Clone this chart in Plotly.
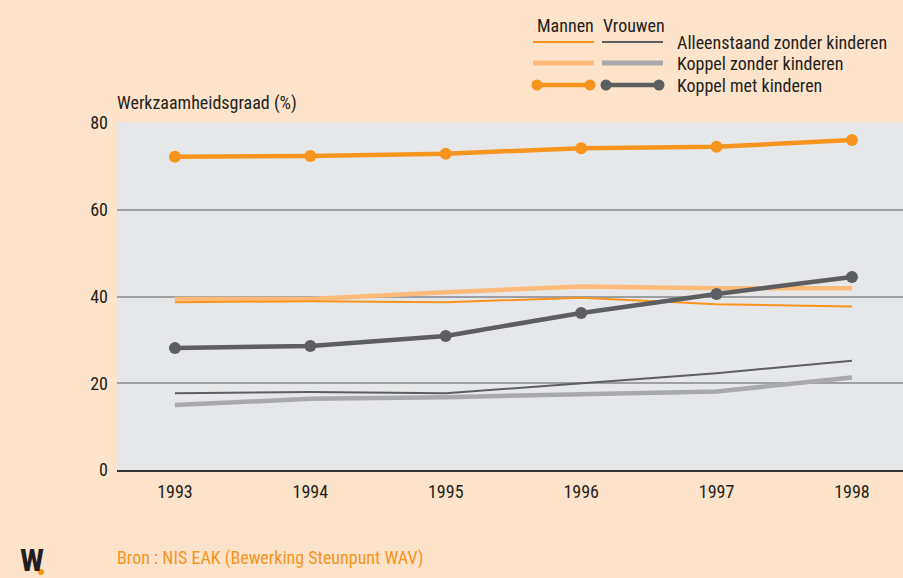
import plotly.graph_objects as go

years = [1993, 1994, 1995, 1996, 1997, 1998]

mannen_alleen = [38.7, 38.9, 38.7, 39.7, 38.2, 37.7]
mannen_koppel_zonder = [39.4, 39.4, 41.0, 42.3, 41.9, 41.9]
mannen_koppel_met = [72.2, 72.4, 72.9, 74.2, 74.5, 76.1]
vrouwen_alleen = [17.7, 18.0, 17.7, 20.0, 22.3, 25.2]
vrouwen_koppel_zonder = [15.0, 16.4, 16.8, 17.4, 18.1, 21.3]
vrouwen_koppel_met = [28.1, 28.6, 30.9, 36.2, 40.6, 44.5]

y_ticks = [0, 20, 40, 60, 80]
legend_rows = ["Alleenstaand zonder kinderen", "Koppel zonder kinderen", "Koppel met kinderen"]
col_heads = ["Mannen", "Vrouwen"]

ORANGE = "#F7941D"
LORANGE = "#FDBA78"
DGRAY = "#5D5E61"
LGRAY = "#A8A9AC"
BG = "#FDE3C9"
PLOT = "#E6E7E8"
TXT = "#231F20"
FONT = "Liberation Sans Narrow, Roboto Condensed, Arial Narrow, sans-serif"

fig = go.Figure()

def add(y, color, width, markers=False):
    fig.add_trace(go.Scatter(
        x=years, y=y, mode="lines+markers" if markers else "lines",
        line=dict(color=color, width=width),
        marker=dict(size=12, color=color),
        showlegend=False, hoverinfo="x+y"))

add(vrouwen_koppel_zonder, LGRAY, 4.5)
add(vrouwen_alleen, DGRAY, 2)
add(mannen_koppel_zonder, LORANGE, 4.5)
add(mannen_alleen, ORANGE, 2)
add(vrouwen_koppel_met, DGRAY, 4.5, True)
add(mannen_koppel_met, ORANGE, 4.5, True)

L, R, T, B = 117, 903, 122, 470
W, H = 903, 578

def px(x):
    return (x - L) / (R - L)

def py(y):
    return (B - y) / (B - T)

shapes = []
annotations = []

# Legend column headers
for txt, cx in zip(col_heads, [565, 634]):
    annotations.append(dict(xref="paper", yref="paper", x=px(cx), y=py(25), text=txt,
                            showarrow=False, xanchor="center", yanchor="middle",
                            font=dict(family=FONT, size=18, color=TXT)))

row_y = [42, 63, 85]
styles = [
    ((ORANGE, 2), (DGRAY, 2), False),
    ((LORANGE, 5), (LGRAY, 5), False),
    ((ORANGE, 4.5), (DGRAY, 4.5), True),
]
for ry, (m, v, dots), label in zip(row_y, styles, legend_rows):
    for (col, w), (x0, x1) in zip([m, v], [(533, 594), (602, 663)]):
        shapes.append(dict(type="line", xref="paper", yref="paper",
                           x0=px(x0), x1=px(x1), y0=py(ry), y1=py(ry),
                           line=dict(color=col, width=w)))
        if dots:
            for cx in (x0 + 4, x1 - 4):
                shapes.append(dict(type="circle", xref="paper", yref="paper",
                                   x0=px(cx - 5.5), x1=px(cx + 5.5),
                                   y0=py(ry + 5.5), y1=py(ry - 5.5),
                                   fillcolor=col, line=dict(width=0)))
    annotations.append(dict(xref="paper", yref="paper", x=px(675), y=py(ry), text=label,
                            showarrow=False, xanchor="left", yanchor="middle",
                            font=dict(family=FONT, size=18, color=TXT)))

# Axis title
annotations.append(dict(xref="paper", yref="paper", x=px(115), y=py(103),
                        text="Werkzaamheidsgraad (%)", showarrow=False,
                        xanchor="left", yanchor="middle",
                        font=dict(family=FONT, size=18, color=TXT)))

# Source
annotations.append(dict(xref="paper", yref="paper", x=px(115), y=py(558),
                        text="Bron : NIS EAK (Bewerking Steunpunt WAV)", showarrow=False,
                        xanchor="left", yanchor="middle",
                        font=dict(family=FONT, size=18, color=ORANGE)))

# Logo
annotations.append(dict(xref="paper", yref="paper", x=px(32), y=py(560),
                        text="<b>W</b>", showarrow=False,
                        xanchor="center", yanchor="middle",
                        font=dict(family=FONT, size=32, color=TXT)))
shapes.append(dict(type="circle", xref="paper", yref="paper",
                   x0=px(38), x1=px(44), y0=py(575), y1=py(569),
                   fillcolor=ORANGE, line=dict(width=0)))

fig.update_layout(
    width=W, height=H,
    margin=dict(l=L, r=W - R, t=T, b=H - B, pad=0),
    paper_bgcolor=BG, plot_bgcolor=PLOT,
    font=dict(family=FONT, size=18, color=TXT),
    shapes=shapes, annotations=annotations,
    showlegend=False,
    xaxis=dict(range=[1992.572, 1998.377], tickvals=years, ticktext=[str(y) for y in years],
               showgrid=False, zeroline=False, showline=True, linecolor="#333333",
               linewidth=2, ticks="", ticklabelstandoff=4, fixedrange=True),
    yaxis=dict(range=[0, 80.23], tickvals=y_ticks, showgrid=True, gridcolor="#9D9FA2",
               gridwidth=1.5, zeroline=False, showline=False, ticks="",
               ticklabelstandoff=8, fixedrange=True),
)

fig.write_html("out.html", config={"displayModeBar": False},
               post_script="document.body.style.margin='0';document.body.style.padding='0';")
